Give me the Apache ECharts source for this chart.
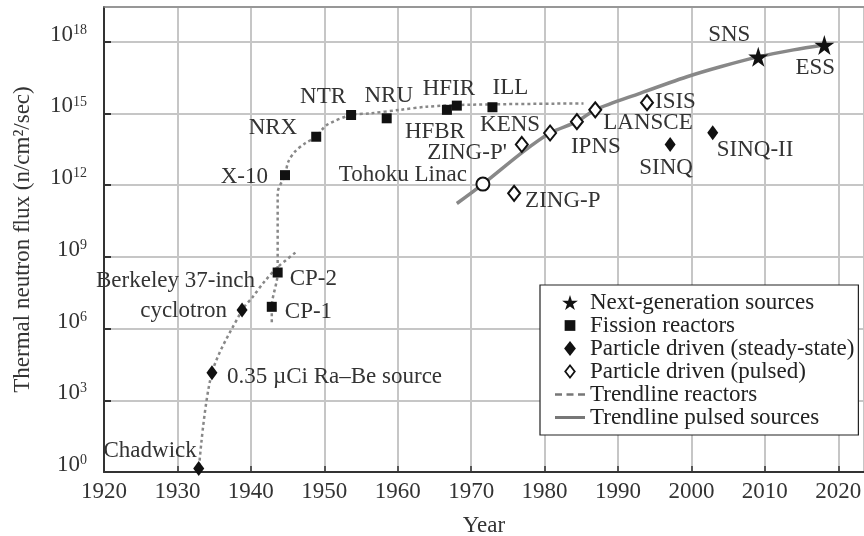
<!DOCTYPE html>
<html><head><meta charset="utf-8">
<script src="https://cdn.jsdelivr.net/npm/echarts@6/dist/echarts.min.js"></script>
<style>html,body{margin:0;padding:0;background:#fff}#c{width:864px;height:536px}</style>
</head><body><div id="c"></div>
<script>
// ---------- data ----------
const xTickYears = [1920, 1930, 1940, 1950, 1960, 1970, 1980, 1990, 2000, 2010, 2020];
const yTickExponents = [0, 3, 6, 9, 12, 15, 18];

const nextGenNames = ['SNS', 'ESS'];
const nextGenYears = [2009.1, 2018.1];
const nextGenFlux  = [2.3e17, 7.2e17];

const fissionNames = ['CP-1', 'CP-2', 'X-10', 'NRX', 'NTR', 'NRU', 'HFBR', 'HFIR', 'ILL'];
const fissionYears = [1942.85, 1943.65, 1944.65, 1948.9, 1953.65, 1958.5, 1966.7, 1968.05, 1972.9];
const fissionFlux  = [8.1e6, 2.2e8, 2.6e12, 1.05e14, 8.5e14, 6.2e14, 1.4e15, 2.1e15, 1.8e15];

const steadyNames = ['Chadwick', '0.35 µCi Ra–Be source', 'Berkeley 37-inch cyclotron', 'SINQ', 'SINQ-II'];
const steadyYears = [1932.9, 1934.7, 1938.8, 1997.1, 2002.9];
const steadyFlux  = [1.4, 1.4e4, 5.9e6, 5.0e13, 1.55e14];

const pulsedNames = ['Tohoku Linac', 'ZING-P', "ZING-P'", 'KENS', 'IPNS', 'LANSCE', 'ISIS'];
const pulsedYears = [1971.6, 1975.85, 1976.9, 1980.75, 1984.4, 1986.9, 1993.95];
const pulsedFlux  = [1.1e12, 4.5e11, 5.0e13, 1.5e14, 4.5e14, 1.4e15, 2.8e15];

// dotted trendline through the early particle sources
const trendEarlyYears = [1932.95, 1934.7, 1938.8, 1940.2, 1941.95, 1943.7, 1946.3];
const trendEarlyFlux  = [1.7, 1.4e4, 5.9e6, 2.0e7, 1.0e8, 3.8e8, 1.7e9];
// dotted trendline through the reactors
const trendReactorYears = [1942.85, 1942.85, 1943.65, 1943.65, 1944.65, 1945.1, 1946.0, 1947.4, 1948.9, 1950.3, 1953.65, 1956.25, 1960.3, 1964.0, 1969.9, 1985.3];
const trendReactorFlux  = [1.85e6, 8.1e6, 2.2e8, 4.6e11, 2.6e12, 9.5e12, 2.5e13, 5.6e13, 1.05e14, 3.2e14, 8.5e14, 1.0e15, 1.4e15, 1.9e15, 2.3e15, 2.6e15];
// solid trendline through pulsed sources
const trendPulsedYears = [1968.05, 1971.6, 1977.1, 1980.75, 1984.4, 1986.9, 1993.0, 1999.4, 2003.95, 2009.1, 2013.9, 2018.1];
const trendPulsedFlux  = [1.7e11, 1.1e12, 2.5e13, 1.5e14, 4.5e14, 1.4e15, 6.9e15, 3.4e16, 8.9e16, 2.3e17, 4.5e17, 7.2e17];

// ---------- label placement (styling, not data) ----------
const labelPlace = {
  'Chadwick': [-2, -18, 'right'],
  '0.35 µCi Ra–Be source': [15, 4, 'left'],
  'Berkeley 37-inch cyclotron': [13, -14, 'right'],
  'SINQ': [-4, 24, 'center'],
  'SINQ-II': [4, 17, 'left'],
  'CP-1': [13, 5, 'left'],
  'CP-2': [12, 6, 'left'],
  'X-10': [-17, 2, 'right'],
  'NRX': [-19, -9, 'right'],
  'NTR': [-28, -18, 'center'],
  'NRU': [2, -22, 'center'],
  'HFBR': [-12, 22, 'center'],
  'HFIR': [-8, -17, 'center'],
  'ILL': [18, -19, 'center'],
  'Tohoku Linac': [-16, -9, 'right'],
  'ZING-P': [11, 8, 'left'],
  "ZING-P'": [-15, 9, 'right'],
  'KENS': [-10, -8, 'right'],
  'IPNS': [19, 25, 'center'],
  'LANSCE': [8, 13, 'left'],
  'ISIS': [8, -1, 'left'],
  'SNS': [-29, -22, 'center'],
  'ESS': [-9, 23, 'center']
};

const FONT = '"Liberation Serif", "Times New Roman", serif';
const TXT = '#333';
const FS = 23;
const STAR = 'path://M50,0 L61.2,34.5 L97.6,34.5 L68.2,55.9 L79.4,90.5 L50,69.1 L20.6,90.5 L31.8,55.9 L2.4,34.5 L38.8,34.5 Z';
const ICON_SQUARE = 'path://M0,0L0,0M14,14L14,14M2,2h10v10h-10z';
const ICON_DIAMOND = 'path://M7,0 L12.5,7 L7,14 L1.5,7 Z';
const ICON_EMPTY_DIAMOND = 'path://M7,0 L12.5,7 L7,14 L1.5,7 Z M7,2.6 L3.6,7 L7,11.4 L10.4,7 Z';
const ICON_DASHED = 'path://M0,0L0,0M0,14L0,14M0,5.8h7v2.4h-7z M11.5,5.8h7v2.4h-7z M23,5.8h7v2.4h-7z';
const ICON_SOLID = 'path://M0,0L0,0M0,14L0,14M0,5.5h30v3h-30z';

function pts(names, years, flux, extra) {
  return years.map((y, i) => {
    const p = labelPlace[names[i]] || [0, 0, 'center'];
    const item = {
      name: names[i],
      value: [y, flux[i]],
      label: { show: true, position: 'inside', offset: [p[0], p[1]], align: p[2], verticalAlign: 'middle' }
    };
    if (extra) Object.assign(item, extra(names[i]));
    return item;
  });
}
function line(years, flux) { return years.map((y, i) => [y, flux[i]]); }

const labelBase = {
  show: true, fontFamily: FONT, fontSize: FS, color: TXT,
  formatter: p => p.name === 'Berkeley 37-inch cyclotron' ? '{a|Berkeley 37-inch}\n{b|cyclotron}' : p.name,
  rich: {
    a: { fontFamily: FONT, fontSize: FS, color: TXT, lineHeight: 30 },
    b: { fontFamily: FONT, fontSize: FS, color: TXT, lineHeight: 30, padding: [0, 28, 0, 0] }
  }
};

const chart = echarts.init(document.getElementById('c'), null, { renderer: 'canvas' });
chart.setOption({
  animation: false,
  backgroundColor: '#fff',
  grid: { left: 104, right: 0, top: 7, bottom: 64, show: false, containLabel: false, outerBoundsMode: 'none' },
  legend: {
    orient: 'vertical', left: 540, top: 285,
    backgroundColor: '#fff', borderColor: '#222', borderWidth: 1.2,
    padding: [6, 4, 6, 15], itemGap: 0, itemWidth: 30, itemHeight: 15,
    symbolKeepAspect: true,
    selectedMode: false,
    textStyle: { fontFamily: FONT, fontSize: FS, color: '#222', lineHeight: 23 },
    data: [
      { name: 'Next-generation sources', icon: STAR, itemStyle: { color: '#111' } },
      { name: 'Fission reactors', icon: ICON_SQUARE, itemStyle: { color: '#111' } },
      { name: 'Particle driven (steady-state)', icon: ICON_DIAMOND, itemStyle: { color: '#111' } },
      { name: 'Particle driven (pulsed)', icon: ICON_EMPTY_DIAMOND, itemStyle: { color: '#111', borderWidth: 0 } },
      { name: 'Trendline reactors', icon: ICON_DASHED, itemStyle: { color: '#777' } },
      { name: 'Trendline pulsed sources', icon: ICON_SOLID, itemStyle: { color: '#777' } }
    ]
  },
  xAxis: [{
    type: 'value', min: 1920, max: 2023.5, interval: 10,
    name: 'Year', nameLocation: 'middle', nameGap: 42, nameMoveOverlap: false,
    nameTextStyle: { fontFamily: FONT, fontSize: FS, color: TXT },
    axisLine: { show: true, onZero: false, lineStyle: { color: '#333', width: 2 } },
    axisTick: { show: true, inside: true, length: 6, lineStyle: { color: '#333', width: 1.5 } },
    axisLabel: {
      margin: 8, fontFamily: FONT, fontSize: FS, color: TXT, showMaxLabel: false,
      formatter: v => xTickYears.indexOf(Math.round(v)) >= 0 && Math.abs(v - Math.round(v)) < 1e-6 ? String(Math.round(v)) : ''
    },
    splitLine: { show: true, lineStyle: { color: '#c6c6c6', width: 2 } }
  }, {
    type: 'value', position: 'top', min: 1920, max: 2023.5, interval: 10,
    axisLine: { show: true, onZero: false, lineStyle: { color: '#888', width: 1.5 } },
    axisTick: { show: false }, axisLabel: { show: false }, splitLine: { show: false }
  }],
  yAxis: {
    type: 'log', logBase: 10, min: 1, max: 2.8e19, interval: 3,
    name: 'Thermal neutron flux (n/cm²/sec)', nameLocation: 'middle', nameGap: 70, nameMoveOverlap: false,
    nameTextStyle: { fontFamily: FONT, fontSize: FS, color: TXT },
    axisLine: { show: true, lineStyle: { color: '#333', width: 2 } },
    axisTick: { show: true, inside: true, length: 7, lineStyle: { color: '#333', width: 2 } },
    axisLabel: {
      margin: 17, padding: [0, 0, 14, 0], showMaxLabel: false,
      formatter: v => {
        const e = Math.log10(v), r = Math.round(e);
        if (Math.abs(e - r) > 0.01 || yTickExponents.indexOf(r) < 0) return '';
        return '{b|10}{s|' + r + '}';
      },
      rich: {
        b: { fontFamily: FONT, fontSize: FS, color: TXT },
        s: { fontFamily: FONT, fontSize: 14, color: TXT, verticalAlign: 'top' }
      }
    },
    splitLine: { show: true, lineStyle: { color: '#c6c6c6', width: 2 } }
  },
  series: [
    {
      name: 'Trendline reactors', type: 'line', smooth: 0.3, symbol: 'none', z: 2,
      itemStyle: { color: '#888' },
      lineStyle: { type: [3, 3], width: 2.5, color: '#888' }, data: line(trendEarlyYears, trendEarlyFlux)
    },
    {
      name: 'Trendline reactors', type: 'line', smooth: 0.3, symbol: 'none', z: 2,
      itemStyle: { color: '#888' },
      lineStyle: { type: [3, 3], width: 2.5, color: '#888' }, data: line(trendReactorYears, trendReactorFlux)
    },
    {
      name: 'Trendline pulsed sources', type: 'line', smooth: 0.3, symbol: 'none', z: 2,
      itemStyle: { color: '#888' },
      lineStyle: { width: 3.5, color: '#888' }, data: line(trendPulsedYears, trendPulsedFlux)
    },
    {
      name: 'Next-generation sources', type: 'scatter', symbol: STAR, symbolSize: 20, z: 5,
      itemStyle: { color: '#111', opacity: 1 }, label: labelBase,
      data: pts(nextGenNames, nextGenYears, nextGenFlux)
    },
    {
      name: 'Fission reactors', type: 'scatter', symbol: 'rect', symbolSize: 10, z: 5,
      itemStyle: { color: '#111', opacity: 1 }, label: labelBase,
      data: pts(fissionNames, fissionYears, fissionFlux)
    },
    {
      name: 'Particle driven (steady-state)', type: 'scatter', symbol: 'diamond', symbolSize: [11, 15], z: 5,
      itemStyle: { color: '#111', opacity: 1 }, label: labelBase,
      data: pts(steadyNames, steadyYears, steadyFlux)
    },
    {
      name: 'Particle driven (pulsed)', type: 'scatter', symbol: 'emptyDiamond', symbolSize: [12, 15], z: 5,
      itemStyle: { color: '#111', borderColor: '#111', borderWidth: 1.5, opacity: 1 }, label: labelBase,
      data: pts(pulsedNames, pulsedYears, pulsedFlux,
        n => n === 'Tohoku Linac' ? { symbol: 'emptyCircle', symbolSize: 13 } : {})
    }
  ]
});
</script></body></html>
